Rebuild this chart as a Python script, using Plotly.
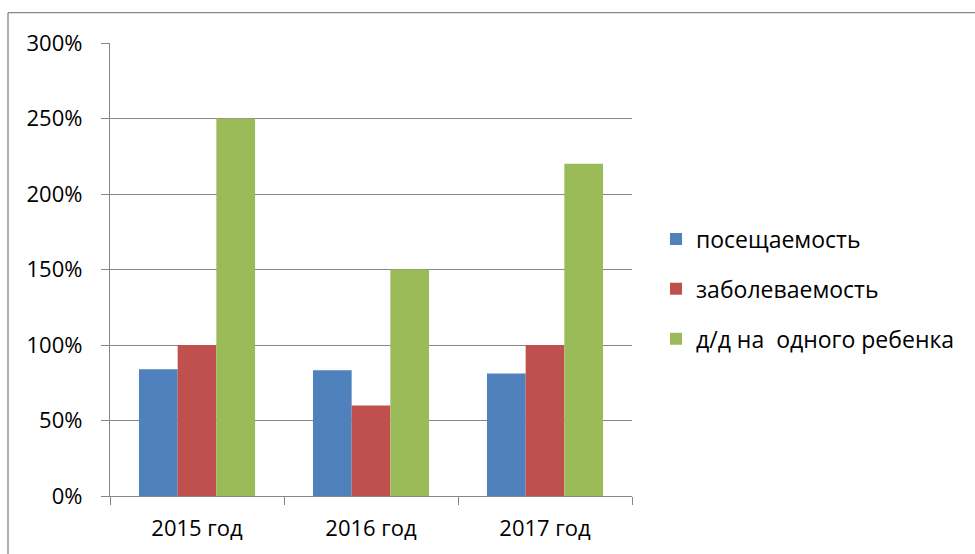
import plotly.graph_objects as go

categories = ["2015 год", "2016 год", "2017 год"]
series_names = ["посещаемость", "заболеваемость", "д/д на  одного ребенка"]
attendance = [0.84, 0.833, 0.811]
morbidity = [1.00, 0.60, 1.00]
days_per_child = [2.50, 1.50, 2.20]
colors = ["#4F81BD", "#C0504D", "#9BBB59"]
y_ticks = [0, 0.5, 1.0, 1.5, 2.0, 2.5, 3.0]
y_tick_labels = ["0%", "50%", "100%", "150%", "200%", "250%", "300%"]

W, H = 975, 554
L, T = 110, 43
R = W - 632
B = H - 496
pw, ph = W - L - R, H - T - B

fig = go.Figure()
for i, (name, vals) in enumerate(zip(series_names, [attendance, morbidity, days_per_child])):
    fig.add_trace(go.Bar(
        x=categories, y=vals, name=name,
        marker=dict(color=colors[i], line=dict(width=0)),
        legendgroup=str(i),
    ))

font_family = "Open Sans, Noto Sans, sans-serif"
grid_col = "#868686"

# outer chart border (left and top edges visible)
bx = (8 - L) / pw
by = 1 + (T - 12.7) / ph
fig.add_shape(type="line", xref="paper", yref="paper", x0=bx, x1=bx, y0=by, y1=-0.5,
              line=dict(color=grid_col, width=1.3))
fig.add_shape(type="line", xref="paper", yref="paper", x0=bx, x1=2.0, y0=by, y1=by,
              line=dict(color=grid_col, width=1.3))

legend_y = 1 - (289 - T) / ph

fig.update_layout(
    width=W, height=H,
    margin=dict(l=L, r=R, t=T, b=B, pad=0),
    paper_bgcolor="white", plot_bgcolor="white",
    barmode="group", bargap=0.333, bargroupgap=0,
    font=dict(family=font_family, size=22, color="#000000"),
    showlegend=True,
    legend=dict(x=(656 - L) / pw, y=legend_y, xanchor="left", yanchor="middle",
                font=dict(size=23, family=font_family), tracegroupgap=17,
                itemwidth=30, bgcolor="rgba(0,0,0,0)"),
    xaxis=dict(showgrid=False, showline=True, linecolor=grid_col, linewidth=1.3,
               ticks="outside", tickson="boundaries", ticklen=8, tickcolor=grid_col,
               tickwidth=1.3, tickfont=dict(size=22), ticklabelstandoff=12),
    yaxis=dict(range=[0, 3.0], tickvals=y_ticks, ticktext=y_tick_labels,
               showgrid=True, gridcolor=grid_col, gridwidth=1.3,
               showline=True, linecolor=grid_col, linewidth=1.3,
               ticks="outside", ticklen=8, tickcolor=grid_col, tickwidth=1.3,
               tickfont=dict(size=22), ticklabelstandoff=14, zeroline=False),
)

fig.write_html(
    "out.html",
    config={"displayModeBar": False},
    post_script="document.body.style.margin='0px';document.body.style.overflow='hidden';"
                "document.documentElement.style.overflow='hidden';",
)
